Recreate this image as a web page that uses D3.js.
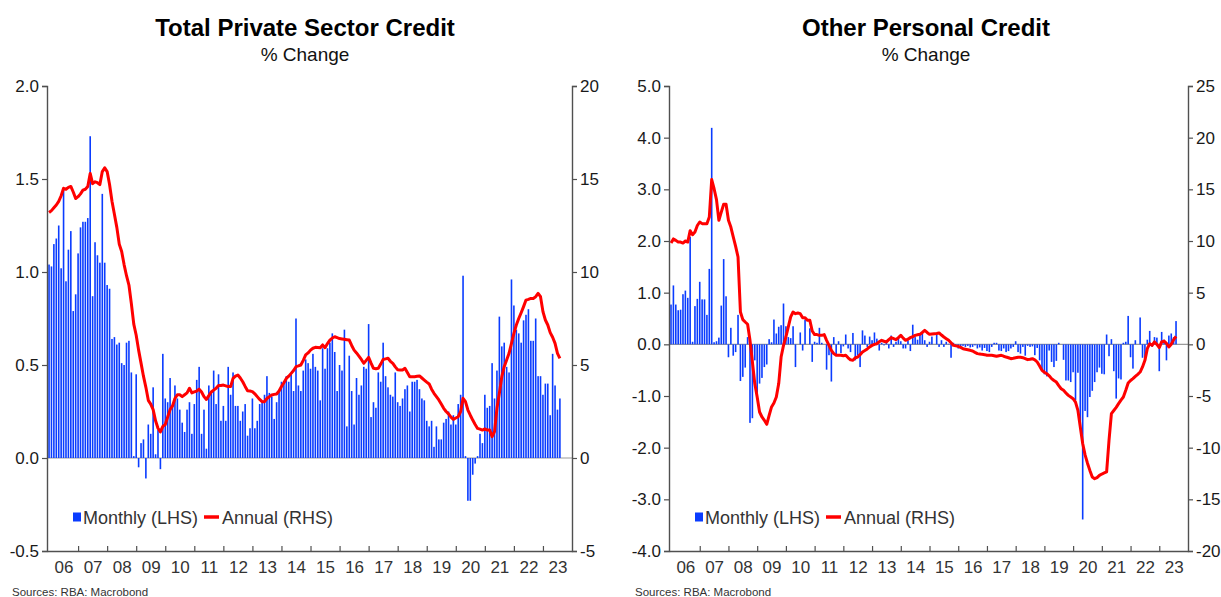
<!DOCTYPE html>
<html>
<head>
<meta charset="utf-8">
<script src="https://cdn.jsdelivr.net/npm/d3@7"></script>
<style>
  body { margin: 0; background: #fff; }
  svg { display: block; font-family: "Liberation Sans", Arial, sans-serif; }
</style>
</head>
<body>
<svg id="chart" width="1221" height="597"></svg>
<script>
// year labels on the x axis (labels sit between year ticks)
var yearLabels = ["06","07","08","09","10","11","12","13","14","15","16","17","18","19","20","21","22","23"];
var firstYear = 2006;

// Total private sector credit, monthly % change (LHS), Jan 2006 - Aug 2023
var tpsMonthly = [
  1.04, 1.03, 1.15, 1.18, 1.25, 1.02, 1.44, 0.95, 1.12, 1.22, 0.79, 0.88,
  1.10, 1.24, 1.27, 1.27, 1.29, 1.73, 0.87, 1.16, 1.09, 1.05, 1.42, 1.05,
  0.93, 0.91, 0.64, 0.65, 0.61, 0.62, 0.51, 0.50, 0.62, 0.63, 0.46, 0.01,
  0.45, -0.05, 0.08, 0.10, -0.11, 0.18, 0.13, 0.38, 0.02, 0.15, -0.06, 0.56,
  0.32, 0.30, 0.43, 0.28, 0.39, 0.32, 0.26, 0.19, 0.14, 0.26, 0.30, 0.13,
  0.29, 0.42, 0.49, 0.13, 0.26, 0.05, 0.39, 0.36, 0.47, 0.29, 0.45, 0.20,
  0.28, 0.20, 0.49, 0.34, 0.46, 0.28, 0.28, 0.20, 0.25, 0.29, 0.12, 0.16,
  0.32, 0.16, 0.20, 0.29, 0.30, 0.34, 0.44, 0.35, 0.33, 0.21, 0.30, 0.36,
  0.41, 0.41, 0.44, 0.41, 0.45, 0.36, 0.75, 0.39, 0.36, 0.47, 0.53, 0.51,
  0.48, 0.56, 0.49, 0.47, 0.31, 0.59, 0.48, 0.59, 0.62, 0.67, 0.57, 0.36,
  0.50, 0.47, 0.69, 0.17, 0.55, 0.36, 0.18, 0.43, 0.34, 0.39, 0.49, 0.48,
  0.72, 0.22, 0.30, 0.27, 0.46, 0.41, 0.62, 0.44, 0.38, 0.34, 0.33, 0.46,
  0.30, 0.28, 0.32, 0.37, 0.39, 0.25, 0.41, 0.41, 0.42, 0.37, 0.32, 0.31,
  0.20, 0.17, 0.20, 0.06, 0.17, 0.10, 0.10, 0.19, 0.21, 0.25, 0.18, 0.23,
  0.18, 0.29, 0.34, 0.98, 0.01, -0.23, -0.23, -0.09, -0.03, 0.01, 0.13, 0.08,
  0.34, 0.27, 0.28, 0.51, 0.32, 0.47, 0.76, 0.60, 0.62, 0.49, 0.46, 0.96,
  0.82, 0.69, 0.67, 0.62, 0.74, 0.77, 0.80, 0.63, 0.63, 0.75, 0.44, 0.44,
  0.34, 0.40, 0.40, 0.23, 0.56, 0.39, 0.26, 0.32
];

// Total private sector credit, annual % change (RHS)
var tpsAnnual = [
  13.2, 13.3, 13.45, 13.6, 13.8, 14.1, 14.5, 14.45, 14.55, 14.6, 14.3, 13.95,
  14.05, 14.2, 14.4, 14.45, 14.6, 15.3, 14.75, 14.85, 14.8, 14.7, 15.4, 15.6,
  15.4, 14.7, 13.8, 13.1, 12.4, 11.5, 11.1, 10.4, 9.8, 9.3, 8.3, 7.2,
  6.6, 5.8, 5.1, 4.4, 3.8, 3.1, 2.9, 2.6, 2.0, 1.6, 1.4, 1.7,
  1.8, 2.2, 2.6, 2.8, 3.2, 3.4, 3.4, 3.3, 3.4, 3.5, 3.75, 3.5,
  3.55, 3.6, 3.7, 3.55, 3.3, 3.15, 3.35, 3.55, 3.65, 3.75, 3.9, 3.9,
  3.92, 3.88, 3.84, 3.84, 4.28, 4.4, 4.46, 4.3, 4.1, 3.85, 3.62, 3.6,
  3.57, 3.45, 3.3, 3.15, 3.03, 3.03, 3.2, 3.3, 3.39, 3.42, 3.44, 3.6,
  3.84, 4.05, 4.28, 4.4, 4.55, 4.7, 4.91, 4.95, 5.0, 5.25, 5.54, 5.65,
  5.8, 5.9, 5.95, 5.94, 5.93, 6.08, 5.93, 6.15, 6.34, 6.45, 6.52, 6.47,
  6.42, 6.4, 6.38, 6.36, 6.34, 6.05, 5.8, 5.65, 5.48, 5.3, 5.09, 5.25,
  5.41, 5.1, 4.82, 4.8, 4.82, 5.05, 5.3, 5.33, 5.36, 5.2, 5.09, 4.9,
  4.75, 4.73, 4.73, 4.82, 4.6, 4.37, 4.37, 4.37, 4.39, 4.41, 4.3, 4.19,
  4.08, 3.98, 3.7, 3.48, 3.3, 3.12, 2.9, 2.67, 2.5, 2.37, 2.2, 2.08,
  2.15, 2.22, 2.49, 3.21, 3.03, 2.58, 2.3, 2.04, 1.8, 1.59, 1.55, 1.5,
  1.56, 1.5, 1.5, 1.15, 1.42, 2.67, 3.48, 4.37, 4.91, 5.27, 5.63, 6.16,
  6.7, 7.15, 7.5, 7.81, 8.14, 8.49, 8.53, 8.58, 8.58, 8.67, 8.85, 8.67,
  7.87, 7.42, 7.15, 6.74, 6.49, 6.16, 5.63, 5.36
];

// Other personal credit, monthly % change (LHS)
var opcMonthly = [
  0.77, 1.14, 0.77, 0.66, 0.67, 0.97, 1.04, 0.90, 2.08, 0.05, 0.74, 0.88,
  1.21, 0.87, 0.87, 0.57, 1.46, 4.19, 0.04, 0.06, 0.13, 0.75, 1.65, 0.93,
  -0.25, 0.32, -0.22, -0.15, 0.57, -0.71, -0.63, -0.45, 0.14, -1.52, -1.43, -0.31,
  -0.94, -0.76, -0.65, -0.44, -0.39, 0.10, 0.04, 0.48, 0.21, 0.34, 0.37, 0.79,
  0.35, 0.14, 0.12, 0.35, -0.44, 0.00, 0.23, -0.12, 0.48, 0.00, 0.31, -0.34,
  0.05, 0.03, 0.32, 0.03, 0.00, -0.49, -0.21, -0.72, 0.14, -0.19, 0.06, -0.17,
  -0.04, 0.19, -0.08, -0.15, 0.22, -0.31, -0.21, -0.44, 0.27, 0.17, -0.05, 0.15,
  0.08, 0.23, 0.11, -0.12, 0.03, -0.02, 0.08, -0.08, 0.17, -0.05, 0.05, 0.14,
  0.06, -0.08, -0.08, 0.08, -0.13, 0.38, 0.14, 0.09, 0.19, 0.24, 0.08, -0.05,
  0.05, 0.15, 0.00, 0.19, -0.05, 0.08, -0.05, 0.05, 0.01, -0.26, 0.03, -0.04,
  -0.08, -0.05, -0.03, -0.05, -0.03, -0.06, -0.05, -0.02, -0.08, -0.06, -0.12, -0.07,
  -0.13, -0.15, -0.05, 0.03, 0.03, -0.12, -0.13, -0.08, -0.15, -0.13, -0.08, -0.05,
  0.06, -0.15, -0.18, -0.05, -0.22, -0.03, -0.05, -0.04, -0.21, -0.07, -0.31, -0.50,
  -0.58, -0.62, -0.12, -0.34, -0.44, -0.32, 0.03, 0.00, -0.30, -0.70, -0.70, -0.73,
  -0.54, -1.08, -0.55, -1.60, -3.39, -1.29, -1.41, -1.02, -0.90, -0.73, -0.54, -0.45,
  -0.57, -0.58, 0.19, -0.23, 0.10, -0.52, -1.05, -0.66, -0.68, 0.03, 0.05, 0.55,
  -0.25, -0.47, 0.08, 0.00, 0.52, -0.26, -0.30, 0.09, 0.26, -0.05, 0.14, 0.13,
  -0.52, 0.24, 0.09, -0.31, 0.17, 0.21, 0.14, 0.45
];

// Other personal credit, annual % change (RHS)
var opcAnnual = [
  9.8, 10.2, 10.06, 9.9, 9.9, 9.8, 10.0, 9.9, 11.0, 10.6, 10.87, 11.5,
  11.84, 11.68, 11.68, 11.68, 12.32, 15.94, 15.06, 14.0, 12.0, 12.8, 13.55, 13.55,
  12.0, 11.35, 10.39, 9.48, 8.45, 3.13, 2.39, 2.16, 1.94, 0.39, -1.7, -3.8,
  -5.1, -6.55, -7.03, -7.35, -7.74, -6.87, -6.06, -5.68, -5.1, -3.8, -1.23, -0.1,
  0.71, 1.68, 2.65, 3.13, 2.97, 3.03, 2.97, 2.58, 2.58, 2.32, 2.32, 1.29,
  0.94, 0.94, 0.87, 0.87, 0.94, 0.39, -0.1, -0.58, -0.9, -1.06, -1.06, -1.06,
  -1.1, -1.06, -1.3, -1.5, -1.55, -1.3, -1.23, -1.0, -0.74, -0.6, -0.45, -0.25,
  -0.1, 0.0, 0.06, 0.25, 0.39, 0.3, 0.23, 0.45, 0.65, 0.55, 0.45, 0.65,
  0.87, 0.6, 0.39, 0.5, 0.65, 0.75, 0.87, 0.92, 0.97, 1.15, 1.35, 1.15,
  0.97, 1.0, 1.03, 1.05, 1.1, 0.9, 0.71, 0.55, 0.39, 0.15, -0.1, -0.15,
  -0.19, -0.3, -0.42, -0.47, -0.52, -0.58, -0.65, -0.78, -0.9, -0.93, -0.97, -1.0,
  -1.06, -1.06, -1.06, -1.1, -1.16, -1.1, -1.06, -1.15, -1.23, -1.3, -1.39, -1.35,
  -1.3, -1.25, -1.25, -1.29, -1.38, -1.48, -1.45, -1.39, -1.5, -1.71, -2.1, -2.52,
  -2.7, -2.84, -3.05, -3.32, -3.5, -3.65, -4.0, -4.3, -4.45, -4.7, -4.94, -5.1,
  -5.26, -5.6, -6.39, -8.0, -9.6, -10.7, -11.5, -12.2, -12.84, -13.0, -12.9, -12.68,
  -12.55, -12.45, -12.35, -9.3, -6.7, -6.4, -6.1, -5.74, -5.4, -5.1, -4.45, -3.74,
  -3.5, -3.32, -3.1, -2.9, -2.68, -2.19, -1.55, -0.42, 0.06, -0.1, 0.23, 0.0,
  -0.32, 0.23, 0.32, 0.1, -0.26, 0.0, 0.45, 0.77
];

var lhsTicksTps = [-0.5, 0, 0.5, 1, 1.5, 2];
var rhsTicksTps = [-5, 0, 5, 10, 15, 20];
var lhsTicksOpc = [-4, -3, -2, -1, 0, 1, 2, 3, 4, 5];
var rhsTicksOpc = [-20, -15, -10, -5, 0, 5, 10, 15, 20, 25];

var svg = d3.select("#chart");
var blue = "#0a3cff", red = "#ff0000", axisCol = "#505050";

// plain hyphen for negatives, like the original
function hyphen(f) { return function(d) { return f(d).replace("\u2212", "-"); }; }

var panels = [
  { title: "Total Private Sector Credit", x0: 47, x1: 572, titleX: 305, legendX: 73,
    monthly: tpsMonthly, annual: tpsAnnual,
    lhs: [-0.5, 2], rhs: [-5, 20], lhsTicks: lhsTicksTps, rhsTicks: rhsTicksTps, srcX: 12 },
  { title: "Other Personal Credit", x0: 669, x1: 1188, titleX: 926, legendX: 695,
    monthly: opcMonthly, annual: opcAnnual,
    lhs: [-4, 5], rhs: [-20, 25], lhsTicks: lhsTicksOpc, rhsTicks: rhsTicksOpc, srcX: 635 }
];

var plotTop = 86, plotBottom = 551;

panels.forEach(function(p) {
  var g = svg.append("g");
  var x = d3.scaleLinear().domain([2005.93, 2024.0]).range([p.x0, p.x1]);
  var yL = d3.scaleLinear().domain(p.lhs).range([plotBottom, plotTop]);
  var yR = d3.scaleLinear().domain(p.rhs).range([plotBottom, plotTop]);
  var monthX = function(k) { return x(firstYear + k / 12); };

  // titles
  g.append("text").attr("x", p.titleX).attr("y", 36).attr("text-anchor", "middle")
    .style("font-size", "24px").style("font-weight", "bold").attr("fill", "#000").text(p.title);
  g.append("text").attr("x", p.titleX).attr("y", 61).attr("text-anchor", "middle")
    .style("font-size", "19px").attr("fill", "#111").text("% Change");

  // zero line
  g.append("line").attr("x1", p.x0).attr("x2", p.x1).attr("y1", yL(0)).attr("y2", yL(0))
    .attr("stroke", "#9a9a9a").attr("stroke-width", 1.2);

  // monthly bars
  g.append("g").selectAll("rect").data(p.monthly).enter().append("rect")
    .attr("x", function(d, k) { return monthX(k) - 0.8; })
    .attr("width", 1.6)
    .attr("y", function(d) { return Math.min(yL(d), yL(0)); })
    .attr("height", function(d) { return Math.abs(yL(d) - yL(0)); })
    .attr("fill", blue);

  // annual line
  var line = d3.line().x(function(d, k) { return monthX(k); }).y(function(d) { return yR(d); });
  g.append("path").datum(p.annual).attr("d", line).attr("fill", "none")
    .attr("stroke", red).attr("stroke-width", 3).attr("stroke-linejoin", "round");

  // y axes
  var left = g.append("g").attr("transform", "translate(" + p.x0 + ",0)")
    .call(d3.axisLeft(yL).tickValues(p.lhsTicks).tickFormat(hyphen(d3.format(".1f"))).tickSize(5).tickPadding(3));
  var right = g.append("g").attr("transform", "translate(" + p.x1 + ",0)")
    .call(d3.axisRight(yR).tickValues(p.rhsTicks).tickFormat(hyphen(d3.format("d"))).tickSize(5).tickPadding(3));

  // x axis: year ticks pointing up, labels centred in each year
  var yearTicks = d3.range(firstYear + 1, firstYear + yearLabels.length);
  var bottomAx = g.append("g").attr("transform", "translate(0," + plotBottom + ")")
    .call(d3.axisBottom(x).tickValues(yearTicks).tickSizeInner(-5).tickSizeOuter(0).tickFormat(""));
  var labAx = g.append("g").attr("transform", "translate(0," + plotBottom + ")")
    .call(d3.axisBottom(x).tickValues(yearLabels.map(function(l, i) { return firstYear + i + 0.5; }))
      .tickSize(0).tickPadding(10).tickFormat(function(d, i) { return yearLabels[i]; }));
  labAx.select(".domain").remove();

  [left, right, bottomAx].forEach(function(a) {
    a.select(".domain").attr("stroke", axisCol).attr("stroke-width", 1.4);
    a.selectAll(".tick line").attr("stroke", axisCol).attr("stroke-width", 1.2);
  });
  [left, right, labAx].forEach(function(a) {
    a.selectAll("text").style("font-size", "17px").style("font-family", "Liberation Sans, Arial, sans-serif")
      .attr("fill", "#1a1a1a");
  });
  labAx.selectAll("text").attr("fill", "#333");

  // legend
  var lg = g.append("g").attr("transform", "translate(" + p.legendX + ",517)");
  lg.append("rect").attr("x", 0).attr("y", -4.5).attr("width", 8).attr("height", 9).attr("fill", blue);
  lg.append("text").attr("x", 10).attr("y", 6.5).style("font-size", "18px").attr("fill", "#333").text("Monthly (LHS)");
  lg.append("line").attr("x1", 131).attr("x2", 146).attr("y1", 0).attr("y2", 0)
    .attr("stroke", red).attr("stroke-width", 3.5);
  lg.append("text").attr("x", 149).attr("y", 6.5).style("font-size", "18px").attr("fill", "#333").text("Annual (RHS)");

  // source
  g.append("text").attr("x", p.srcX).attr("y", 596).style("font-size", "11.5px").attr("fill", "#333")
    .text("Sources: RBA: Macrobond");
});
</script>
</body>
</html>
